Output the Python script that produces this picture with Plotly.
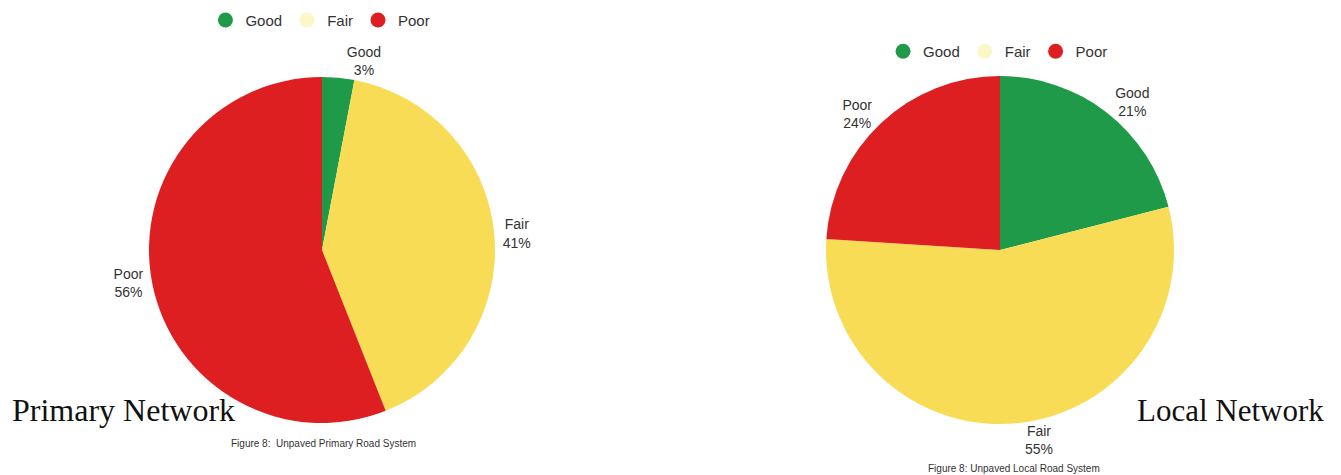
import plotly.graph_objects as go

categories = ["Good", "Fair", "Poor"]
primary_values = [3, 41, 56]
local_values = [21, 55, 24]
slice_colors = ["#1f9a48", "#f8dc55", "#dd1f22"]
legend_colors = ["#1f9a48", "#fcf7c8", "#dd1f22"]
primary_title = "Primary Network"
local_title = "Local Network"
primary_caption = "Figure 8:  Unpaved Primary Road System"
local_caption = "Figure 8: Unpaved Local Road System"

W, H = 1341, 475

fig = go.Figure()

label_font = dict(family="Arial, Liberation Sans, sans-serif", size=14, color="#333333")

fig.add_trace(go.Pie(
    labels=categories, values=primary_values, sort=False, direction="clockwise",
    rotation=0, textinfo="label+percent", textposition="outside",
    marker=dict(colors=slice_colors, line=dict(width=0)),
    textfont=label_font, showlegend=False,
    domain=dict(x=[72 / W, 572 / W], y=[1 - 423 / H, 1 - 77 / H]),
))
fig.add_trace(go.Pie(
    labels=categories, values=local_values, sort=False, direction="clockwise",
    rotation=0, textinfo="label+percent", textposition="outside",
    marker=dict(colors=slice_colors, line=dict(width=0)),
    textfont=label_font, showlegend=False,
    domain=dict(x=[750 / W, 1250 / W], y=[1 - 424 / H, 1 - 76 / H]),
))

for name, col in zip(categories, legend_colors):
    fig.add_trace(go.Scatter(x=[None], y=[None], mode="markers", name=name,
                             marker=dict(symbol="circle", size=15, color=col),
                             legend="legend"))
for name, col in zip(categories, legend_colors):
    fig.add_trace(go.Scatter(x=[None], y=[None], mode="markers", name=name,
                             marker=dict(symbol="circle", size=15, color=col),
                             legend="legend2"))

legend_font = dict(family="Arial, Liberation Sans, sans-serif", size=15, color="#333333")
fig.update_layout(
    width=W, height=H,
    margin=dict(l=0, r=0, t=0, b=0, autoexpand=False),
    paper_bgcolor="white", plot_bgcolor="rgba(0,0,0,0)",
    xaxis=dict(visible=False), yaxis=dict(visible=False),
    legend=dict(orientation="h", x=0.1532, y=0.992, xanchor="left", yanchor="top",
                font=legend_font, bgcolor="rgba(0,0,0,0)", itemclick=False),
    legend2=dict(orientation="h", x=0.6585, y=0.9264, xanchor="left", yanchor="top",
                 font=legend_font, bgcolor="rgba(0,0,0,0)", itemclick=False),
    annotations=[
        dict(text=primary_title, x=10 / W, y=1 - 410 / H, xref="paper", yref="paper",
             xanchor="left", yanchor="middle", showarrow=False,
             font=dict(family="Liberation Serif, serif", size=32, color="#111111")),
        dict(text=local_title, x=1326 / W, y=1 - 410 / H, xref="paper", yref="paper",
             xanchor="right", yanchor="middle", showarrow=False,
             font=dict(family="Liberation Serif, serif", size=31, color="#111111")),
        dict(text=primary_caption, x=323 / W, y=1 - 443 / H, xref="paper", yref="paper",
             xanchor="center", yanchor="middle", showarrow=False,
             font=dict(family="Arial, Liberation Sans, sans-serif", size=10, color="#333333")),
        dict(text=local_caption, x=1014 / W, y=1 - 468 / H, xref="paper", yref="paper",
             xanchor="center", yanchor="middle", showarrow=False,
             font=dict(family="Arial, Liberation Sans, sans-serif", size=10, color="#333333")),
    ],
)

fig.write_html("out.html", config={"displayModeBar": False},
               post_script="document.body.style.margin='0';")
